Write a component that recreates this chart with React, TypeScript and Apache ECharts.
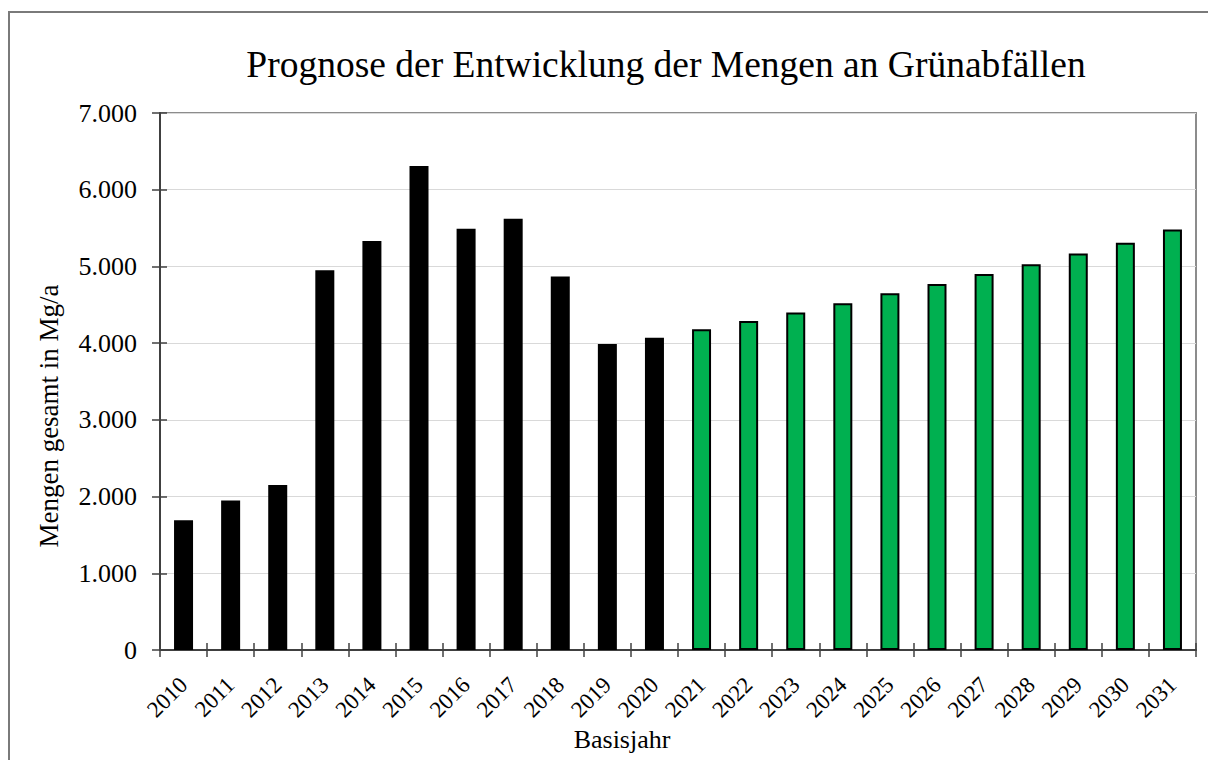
import React, { useEffect, useRef } from "react";
import * as echarts from "echarts";

const years = [
  "2010", "2011", "2012", "2013", "2014", "2015", "2016", "2017", "2018", "2019", "2020",
  "2021", "2022", "2023", "2024", "2025", "2026", "2027", "2028", "2029", "2030", "2031",
];
const historicalValues = [1690, 1950, 2150, 4950, 5330, 6310, 5490, 5620, 4870, 3990, 4070];
const forecastValues = [4180, 4290, 4400, 4520, 4650, 4770, 4900, 5030, 5170, 5310, 5480];
const yTicks = { min: 0, max: 7000, interval: 1000 };

const titleText = "Prognose der Entwicklung der Mengen an Grünabfällen";
const xName = "Basisjahr";
const yName = "Mengen gesamt in Mg/a";

const FONT = '"Liberation Serif", "Times New Roman", serif';

export default function App() {
  const ref = useRef<HTMLDivElement>(null);
  useEffect(() => {
    if (!ref.current) return;
    const chart = echarts.init(ref.current, undefined, { renderer: "svg" });
    const data = years.map((y, i) =>
      i < historicalValues.length
        ? { value: historicalValues[i], itemStyle: { color: "#000000" } }
        : { value: forecastValues[i - historicalValues.length], itemStyle: { color: "#00B050" } }
    );
    const fmt = (v: number) => (v === 0 ? "0" : `${v / 1000}.000`);
    chart.setOption({
      animation: false,
      backgroundColor: "#ffffff",
      textStyle: { fontFamily: FONT },
      grid: {
        left: 160,
        right: 12,
        top: 113,
        bottom: 110,
        show: true,
        borderColor: "#8c8c8c",
        borderWidth: 2,
        backgroundColor: "transparent",
      },
      xAxis: [
        {
          type: "category",
          data: years,
          position: "bottom",
          boundaryGap: true,
          axisLine: { show: true, lineStyle: { color: "#404040", width: 2 } },
          axisTick: { show: true, inside: false, length: 7, lineStyle: { color: "#404040", width: 1.5 } },
          axisLabel: {
            rotate: 45,
            margin: 31,
            fontSize: 23,
            color: "#000",
            fontFamily: FONT,
            interval: 0,
          },
          splitLine: { show: false },
        },
        {
          type: "category",
          data: years,
          position: "bottom",
          boundaryGap: true,
          axisLine: { show: false },
          axisTick: { show: true, inside: true, length: 7, lineStyle: { color: "#404040", width: 1.5 } },
          axisLabel: { show: false },
          splitLine: { show: false },
        },
      ],
      yAxis: [
        {
          type: "value",
          min: yTicks.min,
          max: yTicks.max,
          interval: yTicks.interval,
          position: "left",
          axisLine: { show: true, lineStyle: { color: "#404040", width: 2 } },
          axisTick: { show: true, inside: false, length: 8, lineStyle: { color: "#404040", width: 1.5 } },
          axisLabel: { margin: 23, fontSize: 26, color: "#000", fontFamily: FONT, formatter: fmt },
          splitLine: { show: true, lineStyle: { color: "#d9d9d9", width: 1 } },
        },
        {
          type: "value",
          min: yTicks.min,
          max: yTicks.max,
          interval: yTicks.interval,
          position: "left",
          axisLine: { show: false },
          axisTick: { show: true, inside: true, length: 7, lineStyle: { color: "#404040", width: 1.5 } },
          axisLabel: { show: false },
          splitLine: { show: false },
        },
      ],
      series: [
        {
          type: "bar",
          xAxisIndex: 0,
          yAxisIndex: 0,
          data,
          barWidth: 19,
          itemStyle: { borderColor: "#000000", borderWidth: 2 },
        },
      ],
      graphic: [
        {
          type: "rect",
          shape: { x: 9, y: 12, width: 1300, height: 900 },
          style: { fill: "none", stroke: "#7a7a7a", lineWidth: 2 },
          silent: true,
          z: -10,
        },
        {
          type: "text",
          x: 666,
          y: 64,
          style: {
            text: titleText,
            fontSize: 37.5,
            fontFamily: FONT,
            fill: "#000",
            textAlign: "center",
            textVerticalAlign: "middle",
          },
        },
        {
          type: "text",
          x: 622,
          y: 739,
          style: {
            text: xName,
            fontSize: 26,
            fontFamily: FONT,
            fill: "#000",
            textAlign: "center",
            textVerticalAlign: "middle",
          },
        },
        {
          type: "text",
          x: 49,
          y: 416,
          rotation: Math.PI / 2,
          style: {
            text: yName,
            fontSize: 27,
            fontFamily: FONT,
            fill: "#000",
            textAlign: "center",
            textVerticalAlign: "middle",
          },
        },
      ],
    });
    return () => chart.dispose();
  }, []);
  return (
    <div
      ref={ref}
      style={{ position: "absolute", left: 0, top: 0, width: 1208, height: 760 }}
    />
  );
}
